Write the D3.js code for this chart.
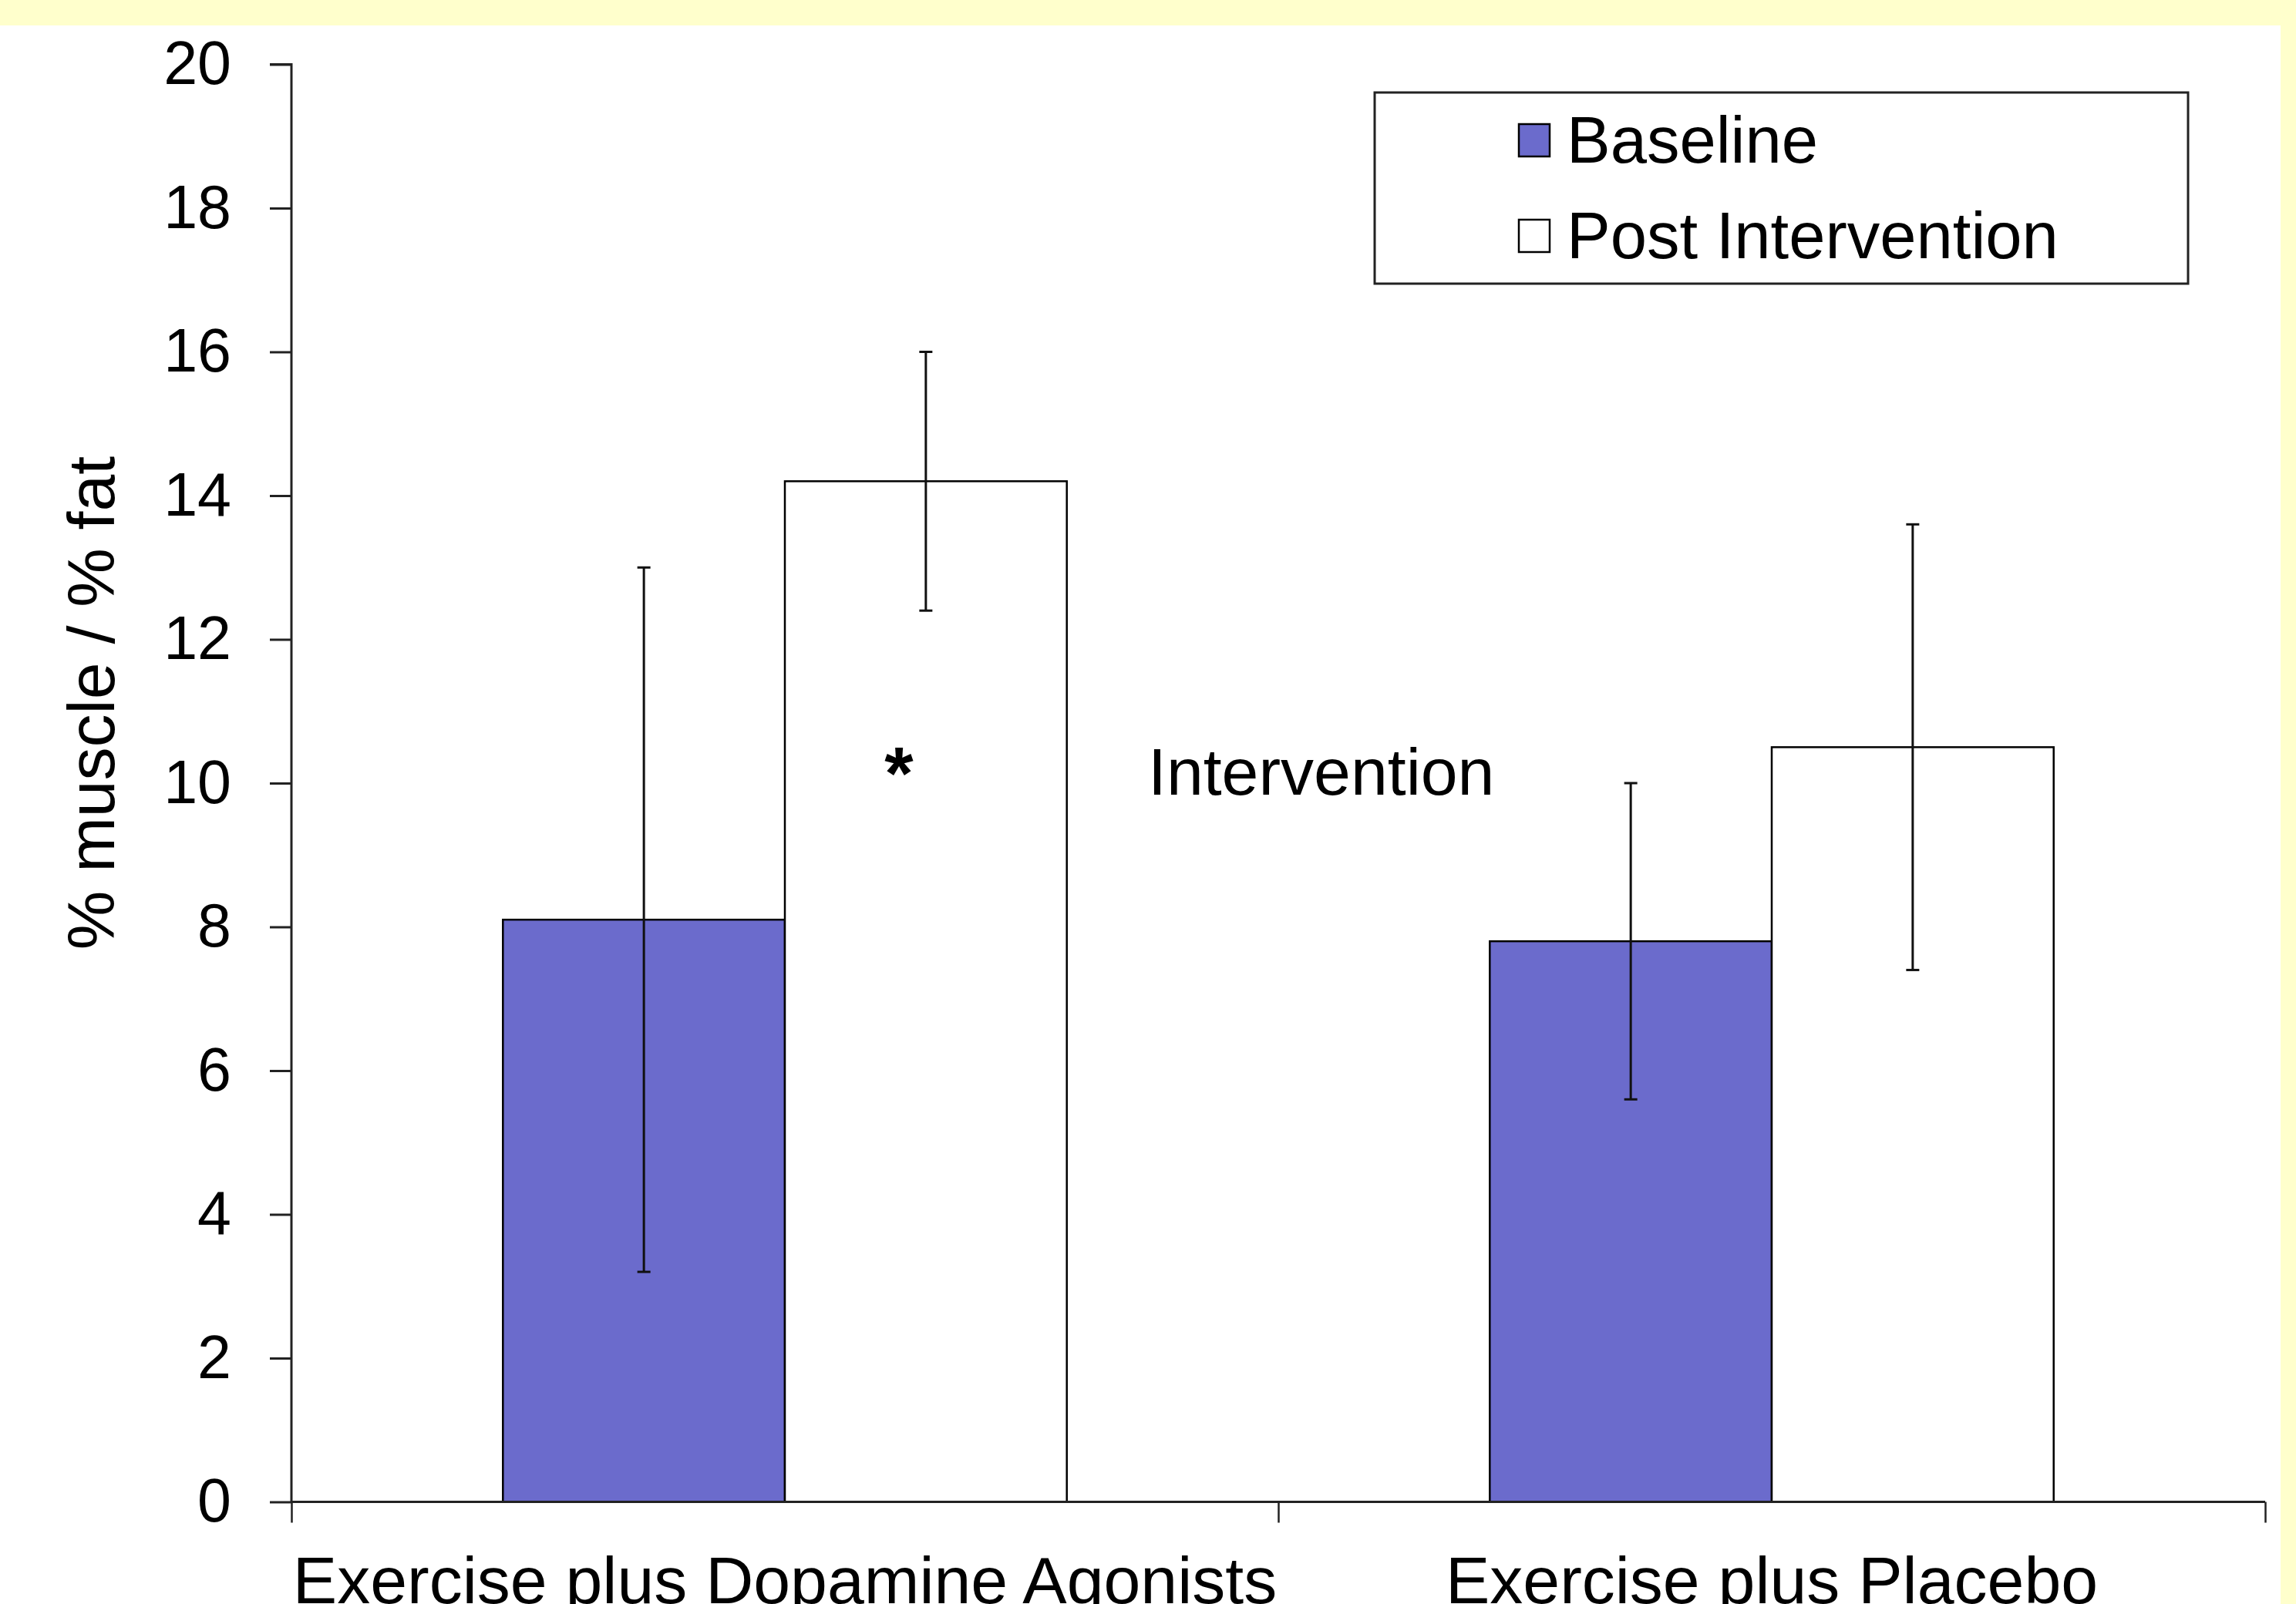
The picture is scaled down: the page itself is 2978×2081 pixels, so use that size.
<!DOCTYPE html>
<html>
<head>
<meta charset="utf-8">
<script src="https://cdn.jsdelivr.net/npm/d3@7"></script>
<style>
  html, body { margin: 0; padding: 0; background: #ffffff; }
  svg { display: block; }
  text { font-family: "Liberation Sans", Arial, sans-serif; fill: #000; }
</style>
</head>
<body>
<svg id="chart" width="2978" height="2081"></svg>
<script>
// ---- data ----
const categories = ["Exercise plus Dopamine Agonists", "Exercise plus Placebo"];
const seriesNames = ["Baseline", "Post Intervention"];
const baselineValues = [8.1, 7.8];
const postValues = [14.2, 10.5];
const baselineErrors = [4.9, 2.2];
const postErrors = [1.8, 3.1];
const yTicks = [0, 2, 4, 6, 8, 10, 12, 14, 16, 18, 20];
const yLabel = "% muscle / % fat";
const annotationText = "Intervention";
const significanceMark = "*";

// ---- layout ----
const W = 2978, H = 2081;
const plot = { left: 378, right: 2938, top: 83.5, bottom: 1948.5 };
const colors = { "Baseline": "#6b6bcc", "Post Intervention": "#ffffff" };

const svg = d3.select("#chart");

// background with yellow frame
svg.append("rect").attr("x", 0).attr("y", 0).attr("width", W).attr("height", H).attr("fill", "#ffffcc");
svg.append("rect").attr("x", 0).attr("y", 33).attr("width", 2958).attr("height", H - 33).attr("fill", "#ffffff");

const y = d3.scaleLinear().domain([0, 20]).range([plot.bottom, plot.top]);
const x0 = d3.scaleBand().domain(categories).range([plot.left, plot.right]).padding(0);
const x1 = d3.scaleBand().domain(seriesNames).range([0, x0.bandwidth()]).paddingInner(0).paddingOuter(0.75);

const rows = categories.map((c, i) => ({
  cat: c,
  bars: [
    { s: "Baseline", v: baselineValues[i], e: baselineErrors[i] },
    { s: "Post Intervention", v: postValues[i], e: postErrors[i] }
  ]
}));

const g = svg.append("g");
const groups = g.selectAll("g.grp").data(rows).enter().append("g")
  .attr("transform", d => `translate(${x0(d.cat)},0)`);

groups.selectAll("rect").data(d => d.bars).enter().append("rect")
  .attr("x", d => x1(d.s))
  .attr("y", d => y(d.v))
  .attr("width", x1.bandwidth())
  .attr("height", d => y(0) - y(d.v))
  .attr("fill", d => colors[d.s])
  .attr("stroke", "#000")
  .attr("stroke-width", 2.5);

// error bars
const capW = 17;
const eb = groups.selectAll("g.eb").data(d => d.bars).enter().append("g")
  .attr("stroke", "#111").attr("stroke-width", 3);
eb.append("line")
  .attr("x1", d => x1(d.s) + x1.bandwidth() / 2).attr("x2", d => x1(d.s) + x1.bandwidth() / 2)
  .attr("y1", d => y(d.v + d.e)).attr("y2", d => y(d.v - d.e));
eb.append("line")
  .attr("x1", d => x1(d.s) + x1.bandwidth() / 2 - capW / 2).attr("x2", d => x1(d.s) + x1.bandwidth() / 2 + capW / 2)
  .attr("y1", d => y(d.v + d.e)).attr("y2", d => y(d.v + d.e));
eb.append("line")
  .attr("x1", d => x1(d.s) + x1.bandwidth() / 2 - capW / 2).attr("x2", d => x1(d.s) + x1.bandwidth() / 2 + capW / 2)
  .attr("y1", d => y(d.v - d.e)).attr("y2", d => y(d.v - d.e));

// y axis
const yAxis = d3.axisLeft(y).tickValues(yTicks).tickSize(28).tickPadding(50).tickFormat(d3.format("d"));
const yg = svg.append("g").attr("transform", `translate(${plot.left},0)`).call(yAxis);
yg.select(".domain").attr("stroke", "#222").attr("stroke-width", 3).attr("d", `M-28,${plot.top}H0V${plot.bottom}`);
yg.selectAll(".tick line").attr("stroke", "#222").attr("stroke-width", 3);
yg.selectAll(".tick text").attr("font-size", 79).attr("font-family", "'Liberation Sans', Arial, sans-serif").attr("fill", "#000");

// x axis (ticks at category boundaries)
const xb = d3.scaleLinear().domain([0, categories.length]).range([plot.left, plot.right]);
const xAxis = d3.axisBottom(xb).tickValues(d3.range(categories.length + 1)).tickSize(27).tickFormat("");
const xg = svg.append("g").attr("transform", `translate(0,${plot.bottom})`).call(xAxis);
xg.select(".domain").attr("stroke", "#222").attr("stroke-width", 3).attr("d", `M${plot.left},0H${plot.right}`);
xg.selectAll(".tick line").attr("stroke", "#222").attr("stroke-width", 2.5);

// category labels
svg.append("g").selectAll("text").data(categories).enter().append("text")
  .attr("x", d => x0(d) + x0.bandwidth() / 2)
  .attr("y", 2080)
  .attr("text-anchor", "middle")
  .attr("font-size", 86)
  .text(d => d);

// y label
svg.append("text")
  .attr("transform", `translate(148,912) rotate(-90)`)
  .attr("text-anchor", "middle")
  .attr("font-size", 86)
  .text(yLabel);

// annotations
svg.append("text").attr("x", 1489).attr("y", 1031).attr("font-size", 86).text(annotationText);
svg.append("text")
  .attr("x", x0(categories[0]) + x1("Post Intervention") + x1.bandwidth() / 2 - 35)
  .attr("y", 1036).attr("text-anchor", "middle").attr("font-size", 96).attr("font-weight", "bold")
  .text(significanceMark);

// legend
const lg = svg.append("g");
lg.append("rect").attr("x", 1783).attr("y", 120).attr("width", 1055).attr("height", 248)
  .attr("fill", "#fff").attr("stroke", "#222").attr("stroke-width", 3);
const items = lg.selectAll("g.item").data(seriesNames).enter().append("g")
  .attr("transform", (d, i) => `translate(1970,${161 + i * 124})`);
items.append("rect").attr("x", 0).attr("y", 0).attr("width", 40).attr("height", 42)
  .attr("fill", d => colors[d]).attr("stroke", "#000").attr("stroke-width", 2.5);
items.append("text").attr("x", 62).attr("y", 50).attr("font-size", 85).text(d => d);
</script>
</body>
</html>
